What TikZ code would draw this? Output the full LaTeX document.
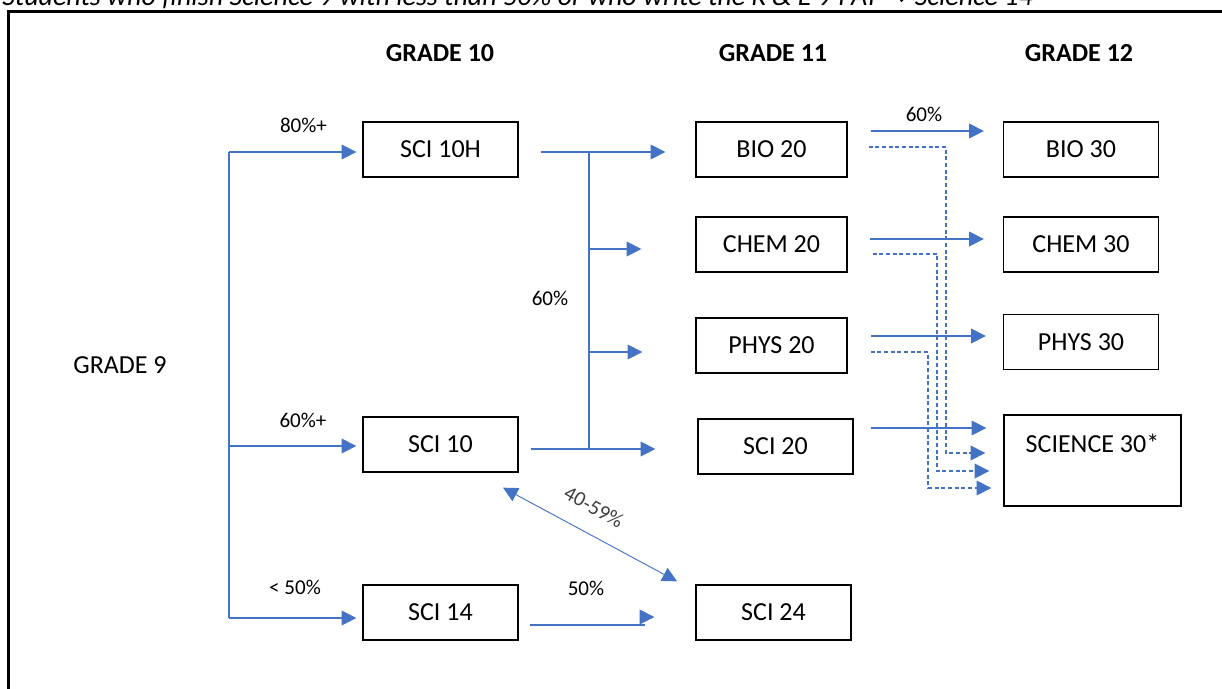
\documentclass[tikz,border=0pt]{standalone}
\usepackage{fontspec}
\setmainfont{Carlito}
\newfontfamily\symfont{DejaVu Sans}
\usetikzlibrary{arrows.meta,calc}
\definecolor{arrblue}{HTML}{4472C4}
\definecolor{lblgray}{HTML}{404040}
\newcommand\boxfont{\fontsize{19.5}{23}\selectfont}
\newcommand\notefont{\fontsize{21}{25}\selectfont}
\newcommand\lblfont{\fontsize{15.8}{19}\selectfont}
\begin{document}
\begin{tikzpicture}[x=0.75pt,y=-0.75pt,
  box/.style={draw=black, line width=1pt, minimum width=116.25pt, minimum height=41.25pt, inner sep=0pt, font=\boxfont},
  head/.style={font=\boxfont\bfseries, inner sep=0pt},
  lbl/.style={font=\lblfont, inner sep=0pt},
  flow/.style={draw=arrblue, line width=1.1pt},
  flowarr/.style={flow, -{Triangle[length=11pt,width=11pt]}},
  dasharr/.style={flowarr, line width=1pt, dash pattern=on 3pt off 2pt},
  thinarr/.style={draw=arrblue, line width=0.7pt, {Triangle[length=11pt,width=11pt]}-{Triangle[length=11pt,width=11pt]}}]
\useasboundingbox (0,0) rectangle (1222,689);
\clip (0,0) rectangle (1222,689);
% top note (cut off)
\node[anchor=base west, inner sep=0pt, font=\notefont\itshape] (note) at (2,5) {Students who finish Science 9 with less than 50\% or who write the K \& E 9 PAT {\symfont\upshape →} Science 14};
% frame
\draw[line width=2.2pt] (8.5,11.5) rectangle (1260,740);
% headings
\node[head] (g10) at (440,53) {GRADE 10};
\node[head] (g11) at (773,53) {GRADE 11};
\node[head] (g12) at (1079,53) {GRADE 12};
\node[font=\boxfont, inner sep=0pt] (g9) at (120,365) {GRADE 9};
% boxes
\node[box] (sci10h) at (440.5,149.5) {SCI 10H};
\node[box] (sci10) at (440.5,444.5) {SCI 10};
\node[box] (sci14) at (440.5,612.5) {SCI 14};
\node[box, minimum width=113.25pt] (bio20) at (771.5,149.5) {BIO 20};
\node[box, minimum width=113.25pt] (chem20) at (771.5,244.5) {CHEM 20};
\node[box, minimum width=113.25pt] (phys20) at (771.5,345.5) {PHYS 20};
\node[box] (sci20) at (775.5,446.5) {SCI 20};
\node[box] (sci24) at (773.5,612.5) {SCI 24};
\node[box] (bio30) at (1081,149.5) {BIO 30};
\node[box] (chem30) at (1081,244.5) {CHEM 30};
\node[box] (phys30) at (1081,342) {PHYS 30};
\node[box, minimum width=132.75pt, minimum height=68.25pt] (sci30) at (1092.5,460.5) {};
\node[font=\boxfont, inner sep=0pt] (sci30t) at (1092.5,443) {SCIENCE 30*};
% grade 9 bracket
\coordinate (g9top) at (229,152);
\coordinate (g9mid) at (229,446);
\coordinate (g9bot) at (229,618);
\draw[flow] (g9top) -- (g9bot);
\draw[flowarr] (g9top) -- ($(sci10h.west)+(-6,2.5)$);
\draw[flowarr] (g9mid) -- ($(sci10.west)+(-6,1.5)$);
\draw[flowarr] (g9bot) -- ($(sci14.west)+(-6,5.5)$);
\node[lbl] (l80) at (303.5,125) {80\%+};
\node[lbl] (l60p) at (303,420) {60\%+};
\node[lbl] (l50a) at (295,587) {< 50\%};
% grade 10 -> 11
\coordinate (jtop) at (589,152);
\coordinate (jbot) at (589,449);
\draw[flow] ($(sci10h.east)+(22,2.5)$) -- (jtop);
\draw[flowarr] (jtop) -- ($(bio20.west)+(-30,2.5)$);
\draw[flow] ($(sci10.east)+(12,4.5)$) -- (jbot);
\draw[flowarr] (jbot) -- ($(sci20.west)+(-42,2.5)$);
\draw[flow] (jtop) -- (jbot);
\coordinate (jchem) at (589,249);
\coordinate (jphys) at (589,352);
\draw[flowarr] (jchem) -- ($(chem20.west)+(-54,4.5)$);
\draw[flowarr] (jphys) -- ($(phys20.west)+(-53,6.5)$);
\node[lbl] (l60) at (550,298) {60\%};
% sci14 -> sci24
\coordinate (s14a) at (530,625);
\coordinate (s14b) at (645,625);
\draw[flow, line width=1.5pt] (s14a) -- (s14b);
\draw[flowarr] ($(sci24.west)+(-55,4.5)$) -- ($(sci24.west)+(-41,4.5)$);
\node[lbl] (l50) at (586,588) {50\%};
% 40-59
\draw[thinarr] ($(sci10.south)+(62.5,15)$) -- ($(sci24.north)+(-96.5,-3)$);
\node[lbl, text=lblgray, rotate=-29] (l4059) at (594,507) {40-59\%};
% grade 11 -> 12 solid
\draw[flowarr] ($(bio20.east)+(23,-18.5)$) -- ($(bio30.west)+(-19,-18.5)$);
\node[lbl] (l60b) at (924,114) {60\%};
\draw[flowarr] ($(chem20.east)+(22,-5.5)$) -- ($(chem30.west)+(-19,-5.5)$);
\draw[flowarr] ($(phys20.east)+(23,-9.5)$) -- ($(phys30.west)+(-17,-6)$);
\draw[flowarr] ($(sci20.east)+(17,-18.5)$) -- ($(sci30.west)+(-17,-32.5)$);
% dashed to science 30
\draw[dasharr] ($(bio20.east)+(21,-2.5)$) -| (946,453) -- ($(sci30.west)+(-18,-7.5)$);
\draw[dasharr] ($(chem20.east)+(25,9.5)$) -| (937,471) -- ($(sci30.west)+(-14,10.5)$);
\draw[dasharr] ($(phys20.east)+(23,6.5)$) -| (928,488) -- ($(sci30.west)+(-12,27.5)$);
\end{tikzpicture}
\end{document}
